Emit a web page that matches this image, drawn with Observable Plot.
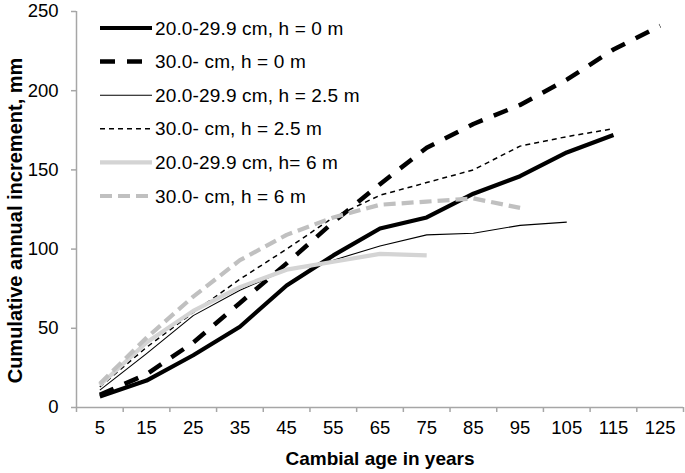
<!DOCTYPE html>
<html>
<head>
<meta charset="utf-8">
<script src="https://cdn.jsdelivr.net/npm/d3@7"></script>
<script src="https://cdn.jsdelivr.net/npm/@observablehq/plot@0.6"></script>
<style>
  html, body { margin: 0; padding: 0; background: #fff; }
  #wrap { position: relative; width: 685px; height: 473px; }
  #wrap svg { display: block; }
  #legend { position: absolute; left: 0; top: 0; }
</style>
</head>
<body>
<div id="wrap"></div>
<script>
// ---- data ----
const ages = [5, 15, 25, 35, 45, 55, 65, 75, 85, 95, 105, 115, 125];
const seriesNames = [
  "20.0-29.9 cm, h = 0 m",
  "30.0- cm, h = 0 m",
  "20.0-29.9 cm, h = 2.5 m",
  "30.0- cm, h = 2.5 m",
  "20.0-29.9 cm, h= 6 m",
  "30.0- cm, h = 6 m"
];
const d20_h0   = [7, 17, 33, 51, 77, 96, 113, 120, 135, 146, 161, 172];
const d30_h0   = [8, 21, 41, 66, 91, 117, 141, 164, 179, 191, 207, 226, 241];
const d20_h25  = [11, 34, 58, 74, 87, 93, 102, 109, 110, 115, 117];
const d30_h25  = [13, 38, 60, 81, 100, 120, 134, 142, 150, 165, 171, 176];
const d20_h6   = [14, 41, 61, 76, 87, 92, 97, 96];
const d30_h6   = [15, 44, 70, 93, 109, 120, 128, 130, 132, 126];
const yTicks = [0, 50, 100, 150, 200, 250];
const xTitle = "Cambial age in years";
const yTitle = "Cumulative annual increment, mm";

// ---- styles ----
const values = [d20_h0, d30_h0, d20_h25, d30_h25, d20_h6, d30_h6];
const styles = [
  {stroke: "#000", strokeWidth: 4.2, dash: null},
  {stroke: "#000", strokeWidth: 4.5, dash: "15,12"},
  {stroke: "#000", strokeWidth: 1.1, dash: null},
  {stroke: "#000", strokeWidth: 1.5, dash: "5,4"},
  {stroke: "#d4d4d4", strokeWidth: 4.2, dash: null},
  {stroke: "#c0c0c0", strokeWidth: 4.2, dash: "12,6"}
];

const series = values.map((v, i) => v.map((y, j) => ({age: ages[j], value: y, name: seriesNames[i]})));
const tickMarks = d3.range(0, 131, 10);
const axisColor = "#a6a6a6";
const font = "'Liberation Sans', Arial, Helvetica, sans-serif";

const chart = Plot.plot({
  width: 685,
  height: 473,
  marginLeft: 76,
  marginRight: 2,
  marginTop: 11,
  marginBottom: 66,
  style: {fontFamily: font, fontSize: "18.5px", color: "#000", background: "#fff", overflow: "visible"},
  x: {domain: [0, 130]},
  y: {domain: [0, 250]},
  marks: [
    Plot.axisX({ticks: tickMarks, tickSize: 5, tickFormat: () => "", stroke: axisColor, strokeWidth: 1.5, label: null}),
    Plot.axisX({ticks: ages, tickSize: 0, tickPadding: 13, tickFormat: d => String(d), label: null, fill: "#000", fontSize: 18.5}),
    Plot.axisY({ticks: yTicks, tickSize: 5, tickPadding: 13, stroke: axisColor, strokeWidth: 1.5, label: null, fill: "#000", fontSize: 18.5}),
    Plot.ruleY([0], {stroke: axisColor, strokeWidth: 1.5}),
    Plot.ruleX([0], {stroke: axisColor, strokeWidth: 1.5}),
    ...series.map((data, i) => Plot.line(data, {
      x: "age", y: "value",
      stroke: styles[i].stroke,
      strokeWidth: styles[i].strokeWidth,
      strokeDasharray: styles[i].dash,
      strokeLinecap: "butt",
      strokeLinejoin: "round"
    })),
    Plot.text([xTitle], {frameAnchor: "bottom", dy: 51, text: d => d, fontWeight: "bold", fontSize: 19, fill: "#000", textAnchor: "middle", lineAnchor: "middle", letterSpacing: "0.2px"}),
    Plot.text([yTitle], {frameAnchor: "left", dx: -61, dy: 11, rotate: -90, text: d => d, fontWeight: "bold", fontSize: 20, fill: "#000", textAnchor: "middle", lineAnchor: "middle", letterSpacing: "1.5px"})
  ]
});

const wrap = document.getElementById("wrap");
wrap.appendChild(chart);

// ---- legend overlay ----
const leg = d3.select(wrap).append("svg")
  .attr("id", "legend")
  .attr("width", 370).attr("height", 215)
  .style("font-family", font);
const row = leg.selectAll("g").data(seriesNames).join("g")
  .attr("transform", (d, i) => `translate(0,${28 + i * 33.6})`);
row.append("line")
  .attr("x1", 100).attr("x2", 152).attr("y1", 0).attr("y2", 0)
  .attr("stroke", (d, i) => styles[i].stroke)
  .attr("stroke-width", (d, i) => styles[i].strokeWidth)
  .attr("stroke-dasharray", (d, i) => styles[i].dash);
row.append("text")
  .attr("x", 155).attr("y", 0).attr("dy", "0.35em")
  .attr("font-size", 19)
  .attr("letter-spacing", "0.15px")
  .attr("fill", "#000")
  .text(d => d);
</script>
</body>
</html>
